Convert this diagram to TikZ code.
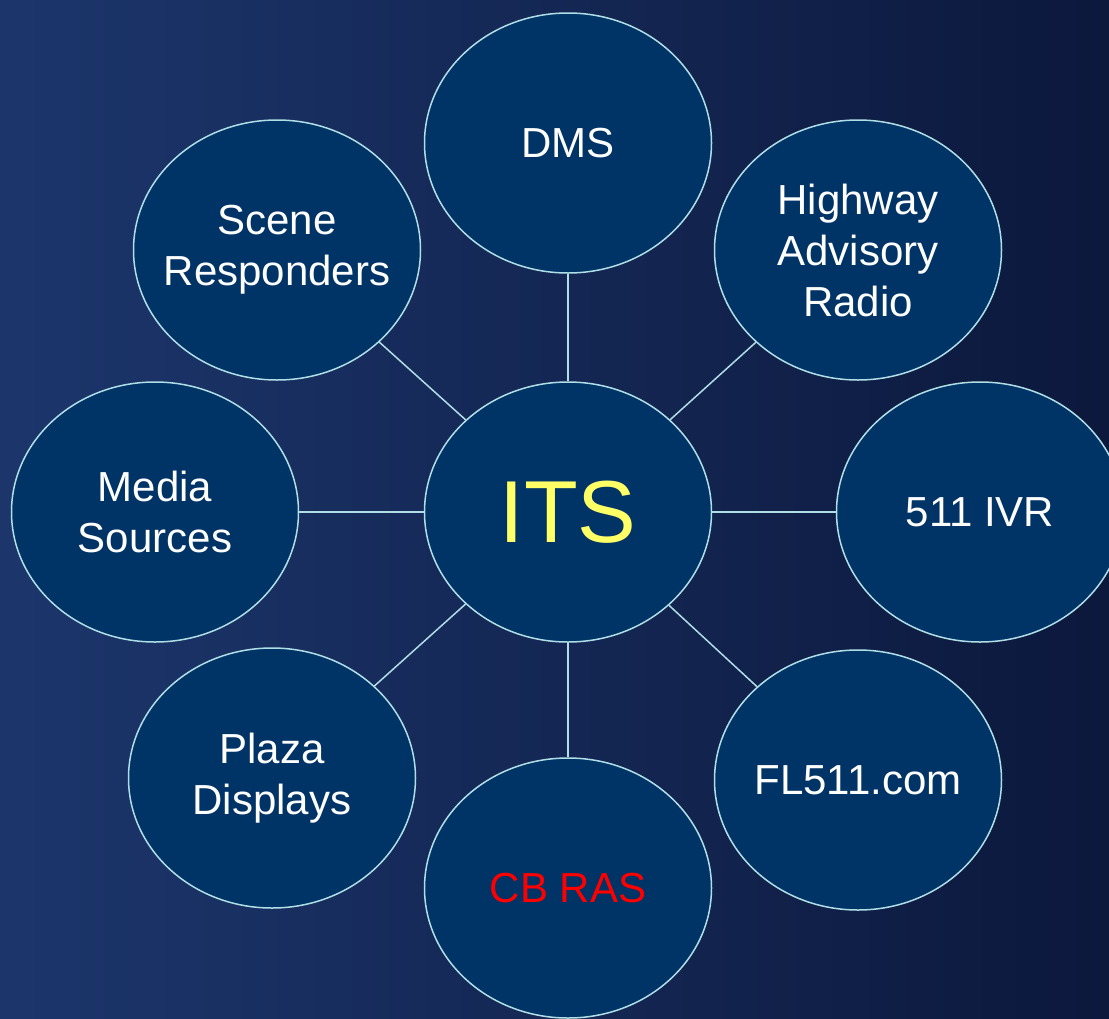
\documentclass[tikz,border=0pt]{standalone}
\usepackage{fontspec}
\setmainfont{Liberation Sans}
\usetikzlibrary{shapes.geometric}
\definecolor{bgleft}{RGB}{28,54,108}
\definecolor{bgright}{RGB}{12,24,60}
\definecolor{bubble}{RGB}{0,51,102}
\definecolor{rim}{RGB}{176,222,230}
\definecolor{itsyellow}{RGB}{255,255,102}
\begin{document}
\begin{tikzpicture}[x=1pt,y=-1pt,
        bubble/.style = {ellipse,
            minimum width = 287pt,
            minimum height = 260pt,
            inner xsep = -40pt,
            inner ysep = 0pt,
            draw = rim,
            line width = 1.5pt,
            fill = bubble,
            text = white,
            align = center,
            font = \fontsize{42}{51}\selectfont
            },
        link/.style = {draw = rim, line width = 1.5pt}]

    % Background
    \shade[left color=bgleft,right color=bgright] (0,0) rectangle (1109,1018);
    \useasboundingbox (0,0) rectangle (1109,1018);

    % Center
    \node[bubble,font=\fontsize{88}{100}\selectfont,text=itsyellow] (its) at (568,512) {ITS};

    % Outer ring
    \node[bubble] (dms) at (568,143) {DMS};
    \node[bubble] (har) at (858,250) {Highway\\Advisory\\Radio};
    \node[bubble] (ivr) at (980,512) {511 IVR};
    \node[bubble] (fl) at (858,780) {FL511.com};
    \node[bubble,text=red] (cb) at (568,888) {CB RAS};
    \node[bubble] (plaza) at (272,778) {Plaza\\Displays};
    \node[bubble] (media) at (155,512) {Media\\Sources};
    \node[bubble] (scene) at (277,250) {Scene\\Responders};

    % Connectors
    \foreach \n in {dms,har,ivr,fl,cb,plaza,media,scene}
        \draw[link] (its) -- (\n);

\end{tikzpicture}
\end{document}
